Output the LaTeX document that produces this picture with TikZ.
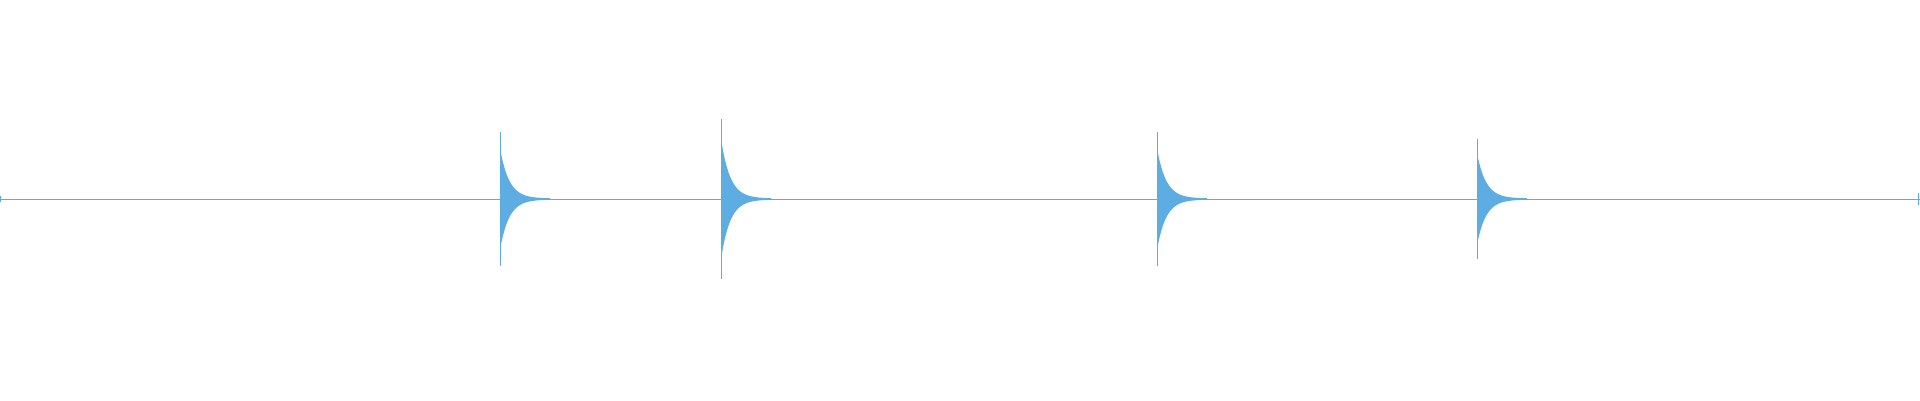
\documentclass[tikz,border=0pt]{standalone}
\definecolor{wave}{HTML}{5DADE2}
\tikzset{
  trace/.style={wave, line width=0.6pt},
  envelope/.style={fill=wave, draw=none},
}
\begin{document}
\begin{tikzpicture}[x=1pt, y=-1pt]
\useasboundingbox (0,0) rectangle (1920,400);
% baseline
\draw[trace] (0,199) -- (1920,199);
\draw[trace] (0,196) -- (0,202);
\draw[trace] (1918,193) -- (1918,205);
% bursts: position / height of the peak
\foreach \px/\amp in {500/67, 721/80, 1157/67, 1477/60} {
  \fill[envelope] (\px,199)
    plot[domain=0:50, samples=40] ({\px+\x}, {199-0.75*\amp*exp(-\x/9)-0.6})
    -- plot[domain=50:0, samples=40] ({\px+\x}, {199+0.75*\amp*exp(-\x/9)+0.6}) -- cycle;
  \draw[trace, line width=1pt] (\px,199-\amp) -- (\px,199+\amp);
}
\end{tikzpicture}
\end{document}
